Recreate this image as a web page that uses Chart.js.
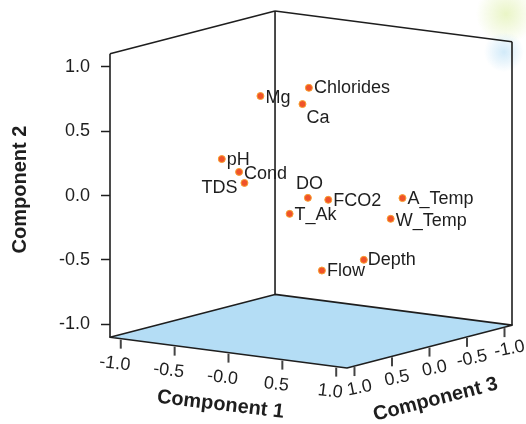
<!DOCTYPE html>
<html>
<head>
<meta charset="utf-8">
<script src="https://cdn.jsdelivr.net/npm/chart.js@4"></script>
<style>
  html, body { margin: 0; padding: 0; background: #fff; }
  canvas { display: block; }
</style>
</head>
<body>
<canvas id="chart" width="526" height="424"></canvas>
<script>
'use strict';

// loadings (component 3 is a depth guess)
const variables  = ['Mg', 'Chlorides', 'Ca', 'pH', 'Cond', 'TDS', 'DO', 'FCO2', 'T_Ak', 'A_Temp', 'W_Temp', 'Depth', 'Flow'];
const component1 = [-0.33, 0.05, 0.06, -0.48, -0.25, -0.20, 0.18, 0.23, 0.08, 0.71, 0.67, 0.56, 0.31];
const component2 = [0.72, 0.81, 0.70, 0.26, 0.20, 0.12, 0.00, -0.04, -0.12, -0.02, -0.17, -0.47, -0.55];
const component3 = [0.20, 0.10, 0.20, 0.50, 0.60, 0.60, 0.30, 0.10, 0.40, -0.20, -0.10, 0.10, 0.30];

const comp1Ticks = [-1.0, -0.5, 0.0, 0.5, 1.0];
const comp1TickLabels = ['-1.0', '-0.5', '-0.0', '0.5', '1.0'];
const comp2Ticks = [-1.0, -0.5, 0.0, 0.5, 1.0];
const comp3Ticks = [1.0, 0.5, 0.0, -0.5, -1.0];
const comp3TickLabels = ['1.0', '0.5', '0.0', '-0.5', '-1.0'];

const FONT = '"Liberation Sans", Arial, sans-serif';

// oblique view of the cube
const BOX = 1.1;
const VIEW = { x1: 107.7, x3: -75, y1: 14, y3: 19.5, y2: 129 };
// shift so the front-left edge reads plain Component 2 values
const EDGE_SHIFT = (VIEW.y1 * -BOX + VIEW.y3 * BOX) / VIEW.y2;

function project(c1, c2, c3) {
    return {
        x: VIEW.x1 * c1 + VIEW.x3 * c3,
        y: c2 - (VIEW.y1 * c1 + VIEW.y3 * c3) / VIEW.y2 + EDGE_SHIFT
    };
}

const xMin = project(-BOX, 0, BOX).x;
const xMax = project(BOX, 0, -BOX).x;
const yMin = project(BOX, -BOX, BOX).y;
const yMax = project(-BOX, BOX, -BOX).y;

const points = variables.map((name, i) => project(component1[i], component2[i], component3[i]));

// where each name sits next to its dot: [dx, dy, align]
const labelOffsets = {
    Mg: [5, 2, 'left'], Chlorides: [5, 0, 'left'], Ca: [4, 14, 'left'],
    pH: [5, 1, 'left'], Cond: [5, 2, 'left'], TDS: [-7, 5, 'right'],
    DO: [-12, -14, 'left'], FCO2: [5, 1, 'left'], T_Ak: [5, 1, 'left'],
    A_Temp: [5, 1, 'left'], W_Temp: [5, 2, 'left'], Depth: [4, 0, 'left'],
    Flow: [5, 1, 'left']
};

function toPx(chart, c1, c2, c3) {
    const p = project(c1, c2, c3);
    return [chart.scales.x.getPixelForValue(p.x), chart.scales.y.getPixelForValue(p.y)];
}

// faint scanner tint at the top right corner
const hazePlugin = {
    id: 'haze',
    beforeDraw(chart) {
        const ctx = chart.ctx;
        ctx.save();
        let g = ctx.createRadialGradient(506, 14, 0, 506, 14, 30);
        g.addColorStop(0, 'rgba(232,244,195,0.95)');
        g.addColorStop(1, 'rgba(232,244,195,0)');
        ctx.fillStyle = g;
        ctx.fillRect(470, 0, 56, 50);
        g = ctx.createRadialGradient(504, 52, 0, 504, 52, 20);
        g.addColorStop(0, 'rgba(205,232,248,0.9)');
        g.addColorStop(1, 'rgba(205,232,248,0)');
        ctx.fillStyle = g;
        ctx.fillRect(480, 30, 46, 45);
        ctx.restore();
    }
};

const boxPlugin = {
    id: 'box3d',
    beforeDatasetsDraw(chart) {
        const ctx = chart.ctx;
        const B = BOX;
        const P = (a, b, c) => toPx(chart, a, b, c);
        const seg = (a, b) => {
            ctx.beginPath();
            ctx.moveTo(a[0], a[1]);
            ctx.lineTo(b[0], b[1]);
            ctx.stroke();
        };
        ctx.save();
        ctx.lineJoin = 'round';

        // floor
        const floor = [P(-B, -B, B), P(B, -B, B), P(B, -B, -B), P(-B, -B, -B)];
        ctx.beginPath();
        floor.forEach((p, i) => i ? ctx.lineTo(p[0], p[1]) : ctx.moveTo(p[0], p[1]));
        ctx.closePath();
        ctx.fillStyle = '#b4ddf5';
        ctx.fill();
        ctx.strokeStyle = '#1e1e1e';
        ctx.lineWidth = 1.6;
        ctx.stroke();

        // walls
        seg(P(-B, -B, B), P(-B, B, B));
        seg(P(-B, -B, -B), P(-B, B, -B));
        seg(P(B, -B, -B), P(B, B, -B));
        seg(P(-B, B, B), P(-B, B, -B));
        seg(P(-B, B, -B), P(B, B, -B));

        // ticks on the floor axes
        ctx.strokeStyle = '#444';
        ctx.lineWidth = 2;
        ctx.fillStyle = '#1e1e1e';
        ctx.font = '18px ' + FONT;
        ctx.textAlign = 'center';
        ctx.textBaseline = 'middle';
        comp1Ticks.forEach((v, i) => {
            const p = P(v, -B, B);
            seg([p[0], p[1] + 1], [p[0], p[1] + 10]);
            ctx.save();
            ctx.translate(p[0] - 6, p[1] + 25);
            ctx.rotate(0.12);
            ctx.fillText(comp1TickLabels[i], 0, 0);
            ctx.restore();
        });
        comp3Ticks.forEach((v, i) => {
            const p = P(B, -B, v);
            seg([p[0], p[1] + 1], [p[0], p[1] + 10]);
            ctx.save();
            ctx.translate(p[0] + 5, p[1] + 22);
            ctx.rotate(-0.2);
            ctx.fillText(comp3TickLabels[i], 0, 0);
            ctx.restore();
        });

        // axis titles
        ctx.font = 'bold 20px ' + FONT;
        const t1 = P(0, -B, B);
        ctx.save();
        ctx.translate(t1[0] - 8, t1[1] + 52);
        ctx.rotate(0.12);
        ctx.fillText('Component 1', 0, 0);
        ctx.restore();
        const t3 = P(B, -B, 0);
        ctx.save();
        ctx.translate(t3[0] + 6, t3[1] + 53);
        ctx.rotate(-0.25);
        ctx.fillText('Component 3', 0, 0);
        ctx.restore();

        ctx.restore();
    }
};

const labelPlugin = {
    id: 'pointNames',
    afterDatasetsDraw(chart) {
        const ctx = chart.ctx;
        const meta = chart.getDatasetMeta(0);
        ctx.save();
        ctx.font = '18px ' + FONT;
        ctx.fillStyle = '#1e1e1e';
        ctx.textBaseline = 'middle';
        meta.data.forEach((el, i) => {
            const off = labelOffsets[variables[i]];
            ctx.textAlign = off[2];
            ctx.fillText(variables[i], el.x + off[0], el.y + off[1]);
        });
        ctx.restore();
    }
};

new Chart(document.getElementById('chart'), {
    type: 'scatter',
    data: {
        datasets: [{
            data: points,
            pointRadius: 3.5,
            pointBackgroundColor: '#f0522a',
            pointBorderColor: '#f7a030',
            pointBorderWidth: 1
        }]
    },
    options: {
        responsive: false,
        animation: false,
        layout: { padding: { top: 11, right: 14, bottom: 56, left: 0 } },
        plugins: { legend: { display: false }, tooltip: { enabled: false } },
        scales: {
            x: { type: 'linear', display: false, min: xMin, max: xMax },
            y: {
                type: 'linear',
                min: yMin,
                max: yMax,
                afterBuildTicks: s => { s.ticks = comp2Ticks.map(v => ({ value: v })); },
                afterFit: s => { s.width = 110; s.paddingTop = 0; s.paddingBottom = 0; },
                ticks: {
                    color: '#1e1e1e',
                    font: { family: FONT, size: 18 },
                    padding: 11,
                    callback: v => Number(v).toFixed(1)
                },
                grid: { drawOnChartArea: false, drawTicks: true, tickLength: 9, tickColor: '#1e1e1e', tickWidth: 1.5 },
                border: { display: false },
                title: {
                    display: true,
                    text: 'Component 2',
                    color: '#1e1e1e',
                    font: { family: FONT, size: 20, weight: 'bold' },
                    padding: { top: 8, bottom: 0 }
                }
            }
        }
    },
    plugins: [hazePlugin, boxPlugin, labelPlugin]
});
</script>
</body>
</html>
